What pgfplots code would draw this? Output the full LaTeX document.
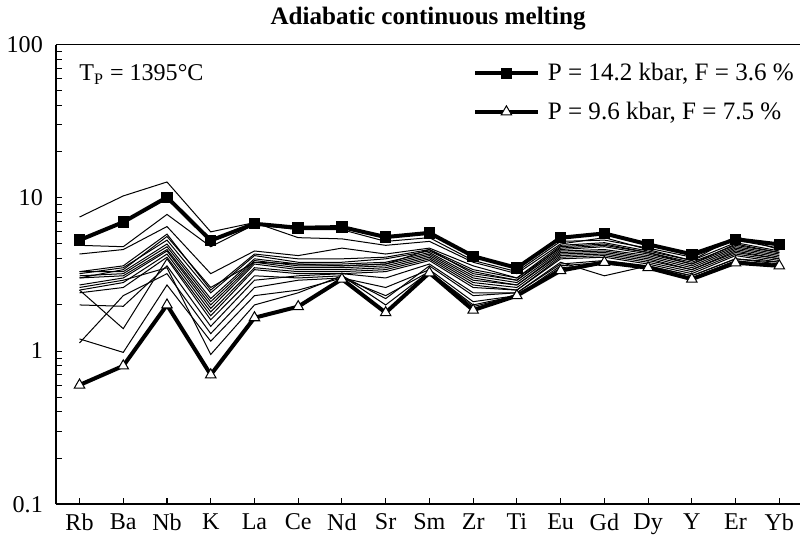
\documentclass[border=0pt]{standalone}
\usepackage{fontspec}
\setmainfont{Liberation Serif}
\usepackage{pgfplots}
\usepackage{pgfplotstable}
\pgfplotsset{compat=1.18}

% normalised trace element patterns, Rb ... Yb (x = 0 ... 16)
\pgfplotstableread{
x  A     B     s1   s2   s3   s4   s5   s6   s7   s8   s9   s10  s11  s12  s13  s14  s15  s16  s17
0  5.30  0.60  7.5  4.9  4.3  3.3  3.2  3.3  3.1  3.0  2.7  2.5  2.4  2.5  2.0  1.13 1.2  2.6  3.0
1  6.95  0.80  10.3 4.8  4.6  3.6  3.5  3.3  3.2  3.1  3.0  2.8  2.6  1.4  1.96 2.3  0.98 2.9  3.4
2  10.1  2.00  12.7 7.8  6.5  5.8  5.3  5.0  4.8  4.6  4.5  4.3  4.1  4.0  3.6  3.2  2.7  3.5  5.6
3  5.27  0.70  6.0  4.8  3.2  2.5  2.4  2.2  2.1  2.0  1.9  1.8  1.7  1.6  1.45 1.3  1.16 0.95 2.6
4  6.78  1.65  6.9  6.7  4.5  4.3  4.2  4.0  3.9  3.8  3.7  3.5  3.4  3.1  2.9  2.6  2.3  2.0  3.8
5  6.38  1.95  5.5  6.2  4.2  4.0  3.8  3.7  3.6  3.5  3.4  3.3  3.2  3.0  3.1  2.9  2.5  2.4  3.7
6  6.45  2.95  5.4  6.2  4.7  4.0  3.8  3.7  3.6  3.5  3.4  3.3  3.2  3.1  3.2  3.0  3.0  3.1  3.6
7  5.55  1.78  4.9  5.2  4.3  4.1  4.0  3.8  3.7  3.6  3.5  3.4  3.3  2.2  3.0  2.6  2.3  2.0  3.7
8  5.91  3.24  5.2  5.5  4.7  4.6  4.5  4.4  4.3  4.2  4.1  4.0  3.9  3.6  3.7  3.4  3.3  3.3  4.6
9  4.16  1.85  3.8  3.9  3.6  3.4  3.3  3.1  3.0  2.9  2.8  2.7  2.6  2.3  2.4  2.1  2.0  1.95 3.2
10 3.49  2.30  3.2  3.3  3.0  3.0  2.9  2.8  2.7  2.7  2.6  2.5  2.5  2.4  2.4  2.3  2.3  2.3  2.9
11 5.49  3.35  5.0  5.2  4.9  4.7  4.6  4.5  4.4  4.3  4.2  4.1  4.0  3.8  3.7  3.6  3.5  3.4  4.8
12 5.86  3.80  5.5  5.3  5.1  4.9  4.8  4.6  4.5  4.4  4.3  4.2  4.1  3.1  3.9  3.8  3.7  3.8  5.0
13 4.97  3.50  4.6  4.7  4.5  4.4  4.3  4.2  4.1  4.0  3.9  3.8  3.7  3.6  3.6  3.5  3.5  3.5  4.4
14 4.28  2.95  3.9  4.1  3.9  3.8  3.7  3.6  3.5  3.4  3.4  3.3  3.2  3.1  3.1  3.0  3.0  2.9  3.7
15 5.37  3.77  5.6  5.3  5.1  4.9  4.8  4.7  4.6  4.5  4.4  4.3  4.2  4.0  4.0  3.9  3.8  3.8  5.0
16 4.97  3.60  4.6  4.7  4.5  4.4  4.3  4.2  4.1  4.0  4.0  3.9  3.8  3.8  3.7  3.6  3.6  3.6  4.4
}\spider

\begin{document}
\begin{tikzpicture}
\begin{axis}[
    width=371pt, height=229pt, scale only axis,
    ymode=log, ymin=0.1, ymax=100,
    xmin=-0.54, xmax=16.48,
    axis x line*=box, axis y line*=left,
    xtick={0,...,16},
    xticklabels={Rb,Ba,Nb,K,La,Ce,Nd,Sr,Sm,Zr,Ti,Eu,Gd,Dy,Y,Er,Yb},
    ytick={0.1,1,10,100}, yticklabels={0.1,1,10,100},
    minor ytick={0.2,0.3,0.4,0.5,0.6,0.7,0.8,0.9,2,3,4,5,6,7,8,9,20,30,40,50,60,70,80,90},
    xtick pos=lower, ytick pos=left,
    tick align=inside,
    major tick length=3pt, minor tick length=3pt,
    tick style={black, line width=0.5pt},
    axis line style={line width=0.7pt},
    every tick label/.append style={font=\fontsize{12}{14}\selectfont},
    yticklabel style={xshift=-3pt},
    xticklabel style={yshift=-1pt},
    title={Adiabatic continuous melting},
    title style={font=\bfseries\fontsize{12.5}{15}\selectfont, yshift=-2pt},
    legend style={draw=none, fill=none, inner sep=0pt, nodes={inner sep=1pt},
        column sep=3pt,
        at={(rel axis cs:1,1)}, anchor=north east,
        font=\fontsize{12.5}{15}\selectfont, row sep=7pt, xshift=-2pt, yshift=-8pt},
    legend cell align=left,
    legend image code/.code={\draw[mark repeat=2, mark phase=2, #1]
        plot coordinates {(0cm,0cm) (0.55cm,0cm) (1.1cm,0cm)};},
]
\pgfplotsinvokeforeach{1,...,17}{
  \addplot[black, line width=0.5pt, no markers, forget plot] table[x=x, y=s#1] {\spider};
}
\addplot[black, line width=2pt, mark=square*, mark size=2.6pt,
    mark options={solid, line width=0.5pt}] table[x=x, y=A] {\spider};
\addlegendentry{P = 14.2 kbar, F = 3.6 \%}
\addplot[black, line width=2pt, mark=triangle*, mark size=3pt,
    mark options={solid, fill=white, line width=0.5pt}] table[x=x, y=B] {\spider};
\addlegendentry{P = 9.6 kbar, F = 7.5 \%}
\node[anchor=west, font=\fontsize{12}{14}\selectfont] at (rel axis cs:0.022,0.935)
    {T\textsubscript{P} = 1395°C};
\end{axis}
\end{tikzpicture}
\end{document}
